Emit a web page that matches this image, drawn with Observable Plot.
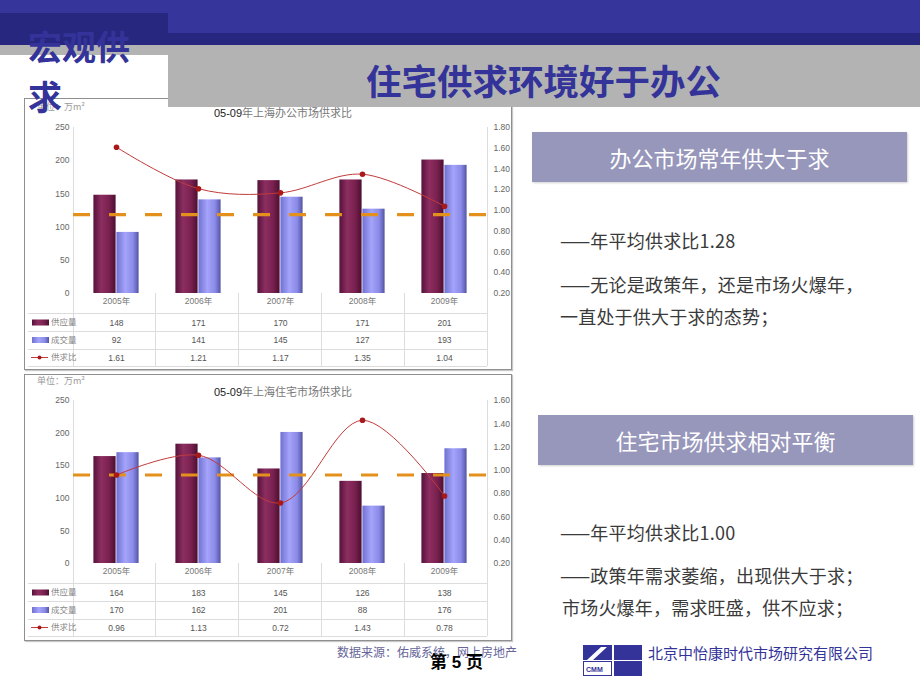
<!DOCTYPE html>
<html><head><meta charset="utf-8">
<script src="https://cdn.jsdelivr.net/npm/d3@7"></script>
<script src="https://cdn.jsdelivr.net/npm/@observablehq/plot@0.6"></script>
<style>
body{margin:0;background:#fff;}
#slide{position:relative;width:920px;height:690px;overflow:hidden;background:#fff;font-family:"Noto Sans CJK SC","Noto Sans",sans-serif;}
.abs{position:absolute;}
.frame{box-sizing:border-box;border:1px solid #8f8f8f;box-shadow:1px 1px 1px #c8c8c8;background:#fff;}
.hbox{background:#9797bb;color:#fff;font-size:22px;line-height:50px;text-align:center;box-shadow:1px 1px 2px #d0d0d0;}
.body{font-size:18px;line-height:24px;color:#3a3a3a;white-space:nowrap;letter-spacing:0.2px;}
</style></head>
<body>
<div id="slide">
  <svg width="0" height="0" style="position:absolute">
    <defs>
      <linearGradient id="gSupply" x1="0" x2="1" y1="0" y2="0">
        <stop offset="0%" stop-color="#55123a"/>
        <stop offset="35%" stop-color="#8c2e60"/>
        <stop offset="70%" stop-color="#7a2150"/>
        <stop offset="100%" stop-color="#4c0f30"/>
      </linearGradient>
      <linearGradient id="gDeal" x1="0" x2="1" y1="0" y2="0">
        <stop offset="0%" stop-color="#7070d2"/>
        <stop offset="40%" stop-color="#a4a4fb"/>
        <stop offset="75%" stop-color="#8a8ae8"/>
        <stop offset="100%" stop-color="#5454a4"/>
      </linearGradient>
    </defs>
  </svg>

  <div class="abs frame" style="left:24px;top:98px;width:488px;height:272px;"></div>
  <div class="abs" id="c1" style="left:24px;top:98px;width:488px;height:272px;"></div>
  <div class="abs frame" style="left:24px;top:374px;width:488px;height:267px;"></div>
  <div class="abs" id="c2" style="left:24px;top:374px;width:488px;height:267px;"></div>

  <!-- header bands -->
  <div class="abs" style="left:0;top:0;width:920px;height:45px;background:#35359b;z-index:5"></div>
  <div class="abs" style="left:0;top:13px;width:168px;height:32px;background:#27277f;z-index:5"></div>
  <div class="abs" style="left:168px;top:33px;width:752px;height:12px;background:#27277f;z-index:5"></div>
  <div class="abs" style="left:168px;top:45px;width:752px;height:62px;background:#b3b3b3;z-index:5"></div>
  <div class="abs" style="left:0;top:45px;width:168px;height:10px;background:#b3b3b3;z-index:5"></div>
  <div class="abs" style="left:28px;top:21px;width:110px;font-size:34px;line-height:50px;font-weight:bold;color:#333399;z-index:6">宏观供求</div>
  <div class="abs" style="left:366px;top:55px;font-size:35.5px;line-height:50px;font-weight:bold;color:#333399;white-space:nowrap;z-index:6">住宅供求环境好于办公</div>

  <!-- right side -->
  <div class="abs hbox" style="left:532px;top:132px;width:375px;height:50px;">办公市场常年供大于求</div>
  <div class="abs body" style="left:560px;top:228px;">——年平均供求比1.28</div>
  <div class="abs body" style="left:560px;top:272px;">——无论是政策年，还是市场火爆年，</div>
  <div class="abs body" style="left:560px;top:304px;">一直处于供大于求的态势；</div>

  <div class="abs hbox" style="left:538px;top:415px;width:375px;height:50px;">住宅市场供求相对平衡</div>
  <div class="abs body" style="left:560px;top:520px;">——年平均供求比1.00</div>
  <div class="abs body" style="left:560px;top:563px;">——政策年需求萎缩，出现供大于求；</div>
  <div class="abs body" style="left:562px;top:595px;">市场火爆年，需求旺盛，供不应求；</div>

  <!-- footer -->
  <div class="abs" style="left:337px;top:644px;font-size:12px;line-height:16px;color:#66669a;white-space:nowrap;z-index:3">数据来源：佑威系统，网上房地产</div>
  <div class="abs" style="left:430px;top:652px;font-size:17px;line-height:22px;font-weight:bold;color:#000;white-space:nowrap;z-index:4;font-family:'Liberation Sans','Noto Sans CJK SC',sans-serif">第 5 页</div>
  <svg class="abs" style="left:583px;top:645px" width="60" height="31">
    <rect x="0" y="0" width="29" height="15" fill="#333399"/>
    <polygon points="4,15 10,15 24,2 18,2" fill="#fff"/>
    <rect x="31" y="0" width="28" height="15" fill="#333399"/>
    <rect x="0.5" y="16.5" width="28" height="14" fill="#fff" stroke="#333399" stroke-width="1"/>
    <text x="3" y="27" font-size="7" font-weight="bold" fill="#333399" font-family="Liberation Sans">CMM</text>
    <rect x="31" y="16" width="28" height="15" fill="#333399"/>
  </svg>
  <div class="abs" style="left:648px;top:643px;font-size:15px;line-height:20px;color:#333399;white-space:nowrap;">北京中怡康时代市场研究有限公司</div>
</div>

<script>
// ---- data ----
const years = ["2005年", "2006年", "2007年", "2008年", "2009年"];
const rowLabels = ["供应量", "成交量", "供求比"];
const leftTicks = [0, 50, 100, 150, 200, 250];

const officeSupply = [148, 171, 170, 171, 201];
const officeDeal   = [92, 141, 145, 127, 193];
const officeRatio  = [1.61, 1.21, 1.17, 1.35, 1.04];
const officeRatioTicks = [0.2, 0.4, 0.6, 0.8, 1.0, 1.2, 1.4, 1.6, 1.8];
const officeRef = 0.96;

const resSupply = [164, 183, 145, 126, 138];
const resDeal   = [170, 162, 201, 88, 176];
const resRatio  = [0.96, 1.13, 0.72, 1.43, 0.78];
const resRatioTicks = [0.2, 0.4, 0.6, 0.8, 1.0, 1.2, 1.4, 1.6];
const resRef = 0.96;

function makeChart(o) {
  const W = 488, ML = 49, MR = 25;
  const rMin = o.rTicks[0], rMax = o.rTicks[o.rTicks.length - 1];
  const toLeft = r => (r - rMin) / (rMax - rMin) * 250;
  const data = years.map((y, i) => ({year: y, supply: o.supply[i], deal: o.deal[i], ratio: o.ratio[i], ratioY: toLeft(o.ratio[i])}));
  const band = (W - ML - MR) / years.length;
  const barW = 23;
  const outer = (band - 2 * barW) / 2;
  const rowDy = [8, 29.5, 47, 64.5];

  const chart = Plot.plot({
    width: W, height: o.height,
    marginTop: o.mt, marginBottom: o.mb, marginLeft: ML, marginRight: MR,
    style: {background: "transparent", fontFamily: "'Liberation Sans','Noto Sans CJK SC',sans-serif", fontSize: "8.5px", color: "#666", overflow: "visible"},
    x: {domain: years, padding: 0, axis: null},
    y: {domain: [0, 250], ticks: leftTicks, tickSize: 0, tickPadding: 4, label: null},
    marks: [
      Plot.barY(data, {x: "year", y: "supply", fill: "url(#gSupply)", insetLeft: outer, insetRight: outer + barW}),
      Plot.barY(data, {x: "year", y: "deal", fill: "url(#gDeal)", insetLeft: outer + barW, insetRight: outer}),
      Plot.ruleY([toLeft(o.ref)], {stroke: "#e3901c", strokeWidth: 3.2, strokeDasharray: "17,19"}),
      Plot.line(data, {x: "year", y: "ratioY", curve: "catmull-rom", stroke: "#c23b3b", strokeWidth: 1}),
      Plot.dot(data, {x: "year", y: "ratioY", r: 2.8, fill: "#a81a1a"}),
      Plot.text(o.rTicks, {y: toLeft, text: d => d.toFixed(2), frameAnchor: "right", textAnchor: "start", dx: 6, fill: "#666"}),
      Plot.text(data, {x: "year", y: () => 0, text: d => d.year, dy: rowDy[0], fill: "#777"}),
      Plot.text(data, {x: "year", y: () => 0, text: d => String(d.supply), dy: rowDy[1], fill: "#555"}),
      Plot.text(data, {x: "year", y: () => 0, text: d => String(d.deal), dy: rowDy[2], fill: "#555"}),
      Plot.text(data, {x: "year", y: () => 0, text: d => d.ratio.toFixed(2), dy: rowDy[3], fill: "#555"})
    ]
  });

  const svg = d3.select(chart);
  const xs = chart.scale("x"), ys = chart.scale("y");
  const y0 = ys.apply(0), yTop = ys.apply(250);
  const x0 = xs.range[0], x1 = xs.range[1];
  const step = (x1 - x0) / years.length;
  const g = svg.insert("g", ":first-child").attr("stroke", "#dcdcdc").attr("stroke-width", 1).attr("shape-rendering", "crispEdges");
  [20, 38.5, 56, 73].forEach(d => g.append("line").attr("x1", 4).attr("x2", x1).attr("y1", y0 + d).attr("y2", y0 + d));
  years.forEach((_, i) => { if (i > 0) g.append("line").attr("x1", x0 + i * step).attr("x2", x0 + i * step).attr("y1", y0).attr("y2", y0 + 73); });
  g.append("line").attr("x1", x0).attr("x2", x0).attr("y1", yTop).attr("y2", y0 + 73);
  g.append("line").attr("x1", x1).attr("x2", x1).attr("y1", yTop).attr("y2", y0 + 73);

  // legend column of the table
  const lg = svg.append("g").attr("font-size", 8.5).attr("fill", "#888").attr("text-anchor", "start");
  lg.append("rect").attr("x", 8).attr("y", y0 + rowDy[1] - 3).attr("width", 17).attr("height", 6).attr("fill", "url(#gSupply)");
  lg.append("rect").attr("x", 8).attr("y", y0 + rowDy[2] - 3).attr("width", 17).attr("height", 6).attr("fill", "url(#gDeal)");
  lg.append("line").attr("x1", 7).attr("x2", 24).attr("y1", y0 + rowDy[3]).attr("y2", y0 + rowDy[3]).attr("stroke", "#c23b3b");
  lg.append("circle").attr("cx", 15.5).attr("cy", y0 + rowDy[3]).attr("r", 2).attr("fill", "#a81a1a");
  rowLabels.forEach((t, i) => lg.append("text").attr("x", 27).attr("y", y0 + rowDy[i + 1]).attr("dy", "0.35em").attr("text-anchor", "start").attr("font-family", "'Noto Sans CJK SC',sans-serif").text(t));

  // title & unit
  const tt = svg.append("text").attr("x", 259).attr("y", o.titleY).attr("dy", "0.35em").attr("text-anchor", "middle").attr("font-size", 11).attr("font-family", "'Liberation Sans','Noto Sans CJK SC',sans-serif");
  tt.append("tspan").attr("fill", "#222").text("05-09");
  tt.append("tspan").attr("fill", "#777").text(o.title);
  svg.append("text").attr("x", 13).attr("y", o.unitY).attr("dy", "0.35em").attr("text-anchor", "start").attr("font-size", 9).attr("fill", "#999").attr("font-family", "'Noto Sans CJK SC',sans-serif").text("单位：万m²");

  document.getElementById(o.id).appendChild(chart);
}

makeChart({id: "c1", supply: officeSupply, deal: officeDeal, ratio: officeRatio, rTicks: officeRatioTicks, ref: officeRef,
  height: 272, mt: 29, mb: 77, title: "年上海办公市场供求比", titleY: 15, unitY: 9});
makeChart({id: "c2", supply: resSupply, deal: resDeal, ratio: resRatio, rTicks: resRatioTicks, ref: resRef,
  height: 267, mt: 26, mb: 78, title: "年上海住宅市场供求比", titleY: 18, unitY: 7});
</script>
</body></html>
